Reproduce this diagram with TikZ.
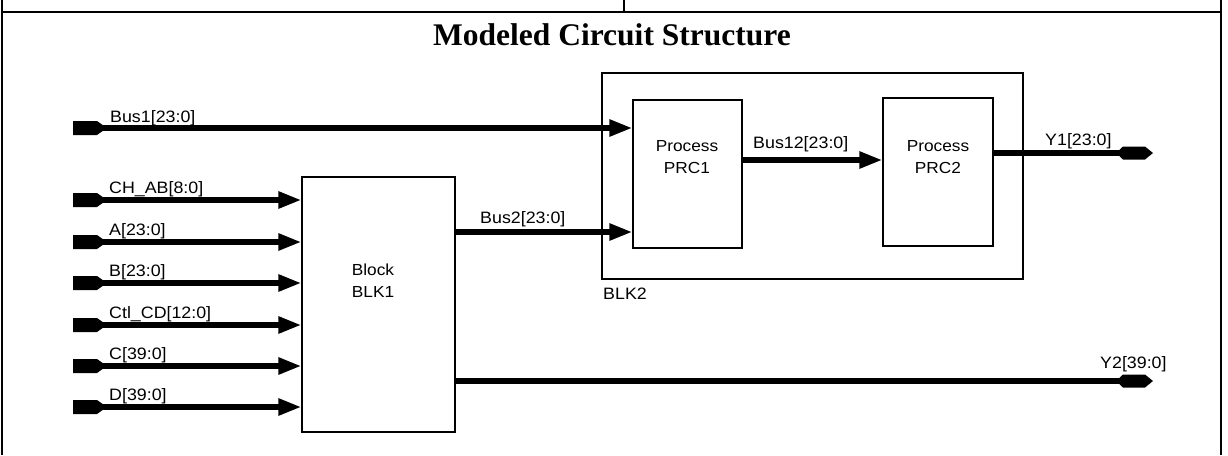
\documentclass[tikz,border=0pt]{standalone}
\usepackage{fontspec}
\usetikzlibrary{arrows.meta}
\newfontfamily\lblfamily[FakeStretch=1.08]{Liberation Sans}
\newfontfamily\ttlfamily{Liberation Serif}
\tikzset{
  bus/.style={line width=5.5pt, -{Triangle[length=23pt,width=16pt]}},
  plainbus/.style={line width=5.5pt},
  blockbox/.style={draw, line width=1.3pt, inner sep=0pt},
  frameline/.style={line width=2pt},
  lbl/.style={font=\lblfamily\fontsize{16.5}{18}\selectfont, inner sep=0pt, anchor=base west},
  boxtext/.style={font=\lblfamily\fontsize{16}{22}\selectfont, inner sep=0pt, align=center},
  pics/instub/.style={code={\fill (0,-7) -- (24,-7) -- (30,-2.75) -- (30,2.75) -- (24,7) -- (0,7) -- cycle;}},
  pics/outtip/.style={code={\fill (-34,-2.75) -- (-30,-6.5) -- (-8,-6.5) -- (0,0) -- (-8,6.5) -- (-30,6.5) -- (-34,2.75) -- cycle;}},
}
\begin{document}
\begin{tikzpicture}[x=1pt,y=-1pt]
\useasboundingbox (0,0) rectangle (1228,455);
% frame
\draw[frameline] (2,0) -- (2,455);
\draw[frameline] (1221,0) -- (1221,455);
\draw[frameline] (2,12) -- (1221,12);
\draw[line width=1.5pt] (624,0) -- (624,12);
% title
\node[font=\ttlfamily\bfseries\fontsize{31.5}{34}\selectfont, inner sep=0pt, anchor=base west] (title) at (433,45) {Modeled Circuit Structure};
% blocks
\node[blockbox, minimum width=153pt, minimum height=255pt] (blk1) at (378.5,304.5) {};
\node[boxtext] (blk1t) at (373,281) {Block\\BLK1};
\node[blockbox, minimum width=421pt, minimum height=206pt] (blk2) at (812.5,176) {};
\node[lbl] (blk2t) at (603,299) {BLK2};
\node[blockbox, minimum width=109pt, minimum height=148pt] (prc1) at (687.5,174) {};
\node[boxtext] (prc1t) at (687,157) {Process\\PRC1};
\node[blockbox, minimum width=110pt, minimum height=148pt] (prc2) at (938,172) {};
\node[boxtext] (prc2t) at (938,157) {Process\\PRC2};
% inputs to BLK1
\foreach \n/\y/\t in {chab/200/{CH\_AB[8:0]}, a/242/{A[23:0]}, b/283/{B[23:0]}, ctl/325/{Ctl\_CD[12:0]}, c/366/{C[39:0]}, d/407/{D[39:0]}}{
  \coordinate (in\n) at (73,\y);
  \pic at (in\n) {instub};
  \draw[bus] (in\n) -- (blk1.west |- in\n);
  \node[lbl] (l\n) at (109,\y-7) {\t};
}
% Bus1
\coordinate (inbus1) at (73,128);
\pic at (inbus1) {instub};
\draw[bus] (inbus1) -- (prc1.west |- inbus1);
\node[lbl] (lbus1) at (110,122) {Bus1[23:0]};
% Bus2
\coordinate (bus2s) at (455,232);
\draw[bus] (blk1.east |- bus2s) -- (prc1.west |- bus2s);
\node[lbl] (lbus2) at (480,223) {Bus2[23:0]};
% Bus12
\coordinate (bus12s) at (742,160);
\draw[bus] (prc1.east |- bus12s) -- (prc2.west |- bus12s);
\node[lbl] (lbus12) at (753,148) {Bus12[23:0]};
% Y1
\coordinate (y1end) at (1153,153);
\draw[plainbus] (prc2.east |- y1end) -- ([xshift=-10pt]y1end);
\pic at (y1end) {outtip};
\node[lbl] (ly1) at (1045,145) {Y1[23:0]};
% Y2
\coordinate (y2end) at (1153,381);
\draw[plainbus] (blk1.east |- y2end) -- ([xshift=-10pt]y2end);
\pic at (y2end) {outtip};
\node[lbl] (ly2) at (1100,368) {Y2[39:0]};
\end{tikzpicture}
\end{document}
